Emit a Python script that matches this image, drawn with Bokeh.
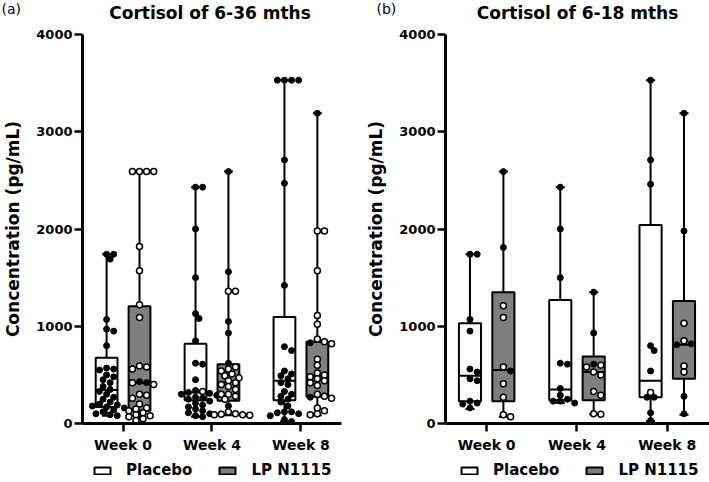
from bokeh.plotting import figure
from bokeh.models import Range1d, FixedTicker, Legend, LegendItem, Label
from bokeh.layouts import row, column
from bokeh.embed import file_html
from bokeh.resources import INLINE

weeks = ["Week 0", "Week 4", "Week 8"]
groups = ["Placebo", "LP N1115"]
y_ticks = [0, 1000, 2000, 3000, 4000]
titles = ["Cortisol of 6-36 mths", "Cortisol of 6-18 mths"]
tags = ["(a)", "(b)"]

# ---- panel (a): Cortisol of 6-36 mths ----
a_placebo_min = [80, 70, 20]
a_placebo_q1 = [170, 240, 240]
a_placebo_med = [345, 320, 440]
a_placebo_q3 = [675, 820, 1095]
a_placebo_max = [1740, 2430, 3530]
a_lp_min = [30, 85, 85]
a_lp_q1 = [130, 235, 275]
a_lp_med = [420, 425, 485]
a_lp_q3 = [1205, 610, 840]
a_lp_max = [2590, 2590, 3190]

a_placebo_filled = [
    [1740, 1740, 1690, 1070, 970, 950, 800, 570, 560, 550, 500, 480, 450, 420, 380,
     350, 330, 300, 270, 250, 220, 200, 190, 180, 170, 160, 140, 120, 100, 90, 80],
    [2430, 2430, 2000, 1500, 1130, 1080, 850, 620, 610, 450, 340, 320, 310, 300, 290,
     270, 260, 250, 230, 210, 190, 170, 150, 130, 110, 100, 80, 70],
    [3530, 3530, 3530, 3530, 2710, 2470, 1420, 790, 750, 540, 510, 490, 460, 420, 400,
     330, 300, 280, 250, 220, 180, 120, 120, 110, 100, 80, 40, 20],
]
a_placebo_open = [[], [330], []]
a_lp_filled = [[430, 420], [2590, 1560, 1050, 930, 620, 180], [3190, 830, 270]]
a_lp_open = [
    [2590, 2590, 2590, 2590, 1820, 1570, 1220, 1090, 590, 580, 560, 420, 400, 300, 290,
     260, 200, 160, 150, 130, 110, 90, 80, 70, 50, 30],
    [1360, 1360, 580, 560, 540, 510, 490, 470, 440, 420, 400, 380, 350, 300, 300, 280,
     250, 120, 100, 95, 90, 90, 85],
    [1980, 1980, 1570, 1110, 1020, 870, 840, 820, 660, 600, 520, 500, 480, 460, 440, 420,
     390, 300, 280, 260, 160, 130, 100, 90],
]

# ---- panel (b): Cortisol of 6-18 mths ----
b_placebo_min = [150, 210, 25]
b_placebo_q1 = [230, 240, 270]
b_placebo_med = [490, 350, 440]
b_placebo_q3 = [1030, 1270, 2040]
b_placebo_max = [1740, 2430, 3530]
b_lp_min = [70, 95, 90]
b_lp_q1 = [230, 240, 460]
b_lp_med = [550, 530, 810]
b_lp_q3 = [1350, 690, 1260]
b_lp_max = [2590, 1350, 3190]

b_placebo_filled = [
    [1740, 1740, 1070, 950, 560, 530, 460, 440, 230, 210, 200, 160],
    [2430, 2000, 1500, 620, 610, 360, 290, 250, 230, 230, 210],
    [3530, 2710, 2460, 800, 750, 540, 270, 270, 110, 30],
]
b_placebo_open = [[], [], [320]]
b_lp_filled = [[2590, 1810, 540], [1350, 930, 610], [3190, 1980, 820, 810, 280, 100]]
b_lp_open = [
    [1210, 1090, 580, 410, 270, 90, 70],
    [600, 580, 530, 500, 330, 290, 100, 95],
    [1030, 850, 590, 530],
]

FONT = "DejaVu Sans"
FILL_LP = "#7f7f7f"
OFFSET = 0.185
BOX_W = 0.245
CAP_W = 0.10
DOT = 6
TOP_H = 26
MAIN_H = 434
LEG_H = 20
BT, BB = 8, 37
X0 = -0.456
PPX = 90.3


def swarm(vals, center, ppx, ppy, d=DOT):
    """Deterministic beeswarm: spread overlapping points sideways."""
    order = sorted(range(len(vals)), key=lambda i: -vals[i])
    placed = []
    xs = [center] * len(vals)
    step = d * 0.6
    cands = [0]
    for k in range(1, 9):
        cands += [k, -k]
    for i in order:
        ypx = vals[i] * ppy
        for k in cands:
            xpx = k * step
            ok = True
            for (px, py) in placed:
                if (px - xpx) ** 2 + (py - ypx) ** 2 < (d * 0.95) ** 2:
                    ok = False
                    break
            if ok:
                break
        placed.append((xpx, ypx))
        xs[i] = center + xpx / ppx
    return xs


def draw_boxes(p, stats_p, stats_lp):
    rends = []
    for gi, (stats, fill) in enumerate(((stats_p, "white"), (stats_lp, FILL_LP))):
        mn, q1, med, q3, mx = stats
        cx = [w + (-OFFSET if gi == 0 else OFFSET) for w in range(3)]
        p.segment(x0=cx, y0=q3, x1=cx, y1=mx, line_color="black", line_width=2)
        p.segment(x0=cx, y0=q1, x1=cx, y1=mn, line_color="black", line_width=2)
        p.segment(x0=[c - CAP_W / 2 for c in cx], y0=mx, x1=[c + CAP_W / 2 for c in cx],
                  y1=mx, line_color="black", line_width=2)
        p.segment(x0=[c - CAP_W / 2 for c in cx], y0=mn, x1=[c + CAP_W / 2 for c in cx],
                  y1=mn, line_color="black", line_width=2)
        r = p.quad(left=[c - BOX_W / 2 for c in cx], right=[c + BOX_W / 2 for c in cx],
                   bottom=q1, top=q3, fill_color=fill, line_color="black", line_width=2)
        rends.append(r)
        p.segment(x0=[c - BOX_W / 2 for c in cx], y0=med, x1=[c + BOX_W / 2 for c in cx],
                  y1=med, line_color="black", line_width=2)
    return rends


def make_header(width, title, tag, title_cx, tag_x):
    hf = figure(width=width, height=TOP_H, output_backend="svg", toolbar_location=None,
                x_axis_location=None, y_axis_location=None, min_border=0,
                x_range=Range1d(0, width), y_range=Range1d(0, TOP_H))
    hf.outline_line_color = None
    hf.grid.visible = False
    hf.add_layout(Label(x=title_cx, y=14, text=title, text_font=FONT,
                        text_font_style="bold", text_font_size="17px",
                        text_color="black", text_align="center",
                        text_baseline="middle"))
    hf.add_layout(Label(x=tag_x, y=18, text=tag, text_font=FONT,
                        text_font_size="14px", text_color="black",
                        text_baseline="middle"))
    return hf


def make_panel(stats_p, stats_lp, pts_p, pts_lp, width, bl, br):
    height = MAIN_H
    frame_w = width - bl - br
    frame_h = height - BT - BB
    x_end = X0 + frame_w / PPX
    ppy = frame_h / 4000.0
    p = figure(width=width, height=height, output_backend="svg", toolbar_location=None,
               x_range=Range1d(X0, x_end), y_range=Range1d(0, 4000),
               min_border_left=bl, min_border_right=br, min_border_top=BT,
               min_border_bottom=BB)
    p.outline_line_color = None
    p.grid.visible = False

    for ax in (p.xaxis[0], p.yaxis[0]):
        ax.axis_line_width = 3
        ax.axis_line_color = "black"
        ax.major_tick_line_width = 2.5
        ax.major_tick_out = 8
        ax.major_tick_in = 0
        ax.minor_tick_line_color = None
        ax.major_label_text_font = FONT
        ax.major_label_text_font_style = "bold"
        ax.major_label_text_color = "black"
    p.xaxis.major_label_text_font_size = "14px"
    p.yaxis.major_label_text_font_size = "13px"
    p.xaxis.ticker = FixedTicker(ticks=[0, 1, 2])
    p.xaxis.major_label_overrides = {i: w for i, w in enumerate(weeks)}
    p.xaxis.major_label_standoff = 5
    p.xaxis.axis_label_standoff = 0
    p.yaxis.ticker = FixedTicker(ticks=y_ticks)
    p.yaxis.major_label_standoff = 2
    p.yaxis.axis_label = "Concentration (pg/mL)"
    p.yaxis.axis_label_text_font = FONT
    p.yaxis.axis_label_text_font_style = "bold"
    p.yaxis.axis_label_text_font_size = "17px"
    p.yaxis.axis_label_text_color = "black"
    p.yaxis.axis_label_standoff = 10

    draw_boxes(p, stats_p, stats_lp)

    for gi, (filled, opened) in enumerate((pts_p, pts_lp)):
        for w in range(3):
            c = w + (-OFFSET if gi == 0 else OFFSET)
            vals = list(filled[w]) + list(opened[w])
            xs = swarm(vals, c, PPX, ppy)
            nf = len(filled[w])
            if nf:
                p.scatter(x=xs[:nf], y=vals[:nf], size=DOT, marker="circle",
                          fill_color="black", line_color="black", line_width=1)
            if len(vals) > nf:
                p.scatter(x=xs[nf:], y=vals[nf:], size=DOT, marker="circle",
                          fill_color="white", line_color="black", line_width=1.5)
    return p


def make_legend(width, x0, stats_p, stats_lp):
    # legend strip: the same boxes are drawn but fall outside its (hidden) ranges
    lf = figure(width=width, height=LEG_H, output_backend="svg", toolbar_location=None,
                x_axis_location=None, y_axis_location=None, min_border=0,
                x_range=Range1d(X0, 2.456), y_range=Range1d(-2, -1))
    lf.outline_line_color = None
    lf.grid.visible = False
    r_p, r_lp = draw_boxes(lf, stats_p, stats_lp)
    legend = Legend(items=[LegendItem(label=groups[0], renderers=[r_p]),
                           LegendItem(label=groups[1], renderers=[r_lp])],
                    orientation="horizontal", location=(x0, 0))
    legend.label_text_font = FONT
    legend.label_text_font_style = "bold"
    legend.label_text_font_size = "15px"
    legend.label_text_color = "black"
    legend.label_height = 16
    legend.glyph_width = 20
    legend.glyph_height = 9
    legend.label_standoff = 14
    legend.spacing = 25
    legend.border_line_alpha = 0
    legend.background_fill_alpha = 0
    legend.margin = 0
    legend.padding = 1
    lf.add_layout(legend)
    return lf


stats_a = ((a_placebo_min, a_placebo_q1, a_placebo_med, a_placebo_q3, a_placebo_max),
           (a_lp_min, a_lp_q1, a_lp_med, a_lp_q3, a_lp_max))
stats_b = ((b_placebo_min, b_placebo_q1, b_placebo_med, b_placebo_q3, b_placebo_max),
           (b_lp_min, b_lp_q1, b_lp_med, b_lp_q3, b_lp_max))

W_A, W_B = 355, 354
BL_A, BR_A, BL_B, BR_B = 78, 14, 90, 0

ha = make_header(W_A, titles[0], tags[0], BL_A + (W_A - BL_A - BR_A) / 2, 1)
hb = make_header(W_B, titles[1], tags[1], BL_B + (W_B - BL_B - BR_B) / 2, 21)
pa = make_panel(stats_a[0], stats_a[1],
                (a_placebo_filled, a_placebo_open), (a_lp_filled, a_lp_open),
                W_A, BL_A, BR_A)
pb = make_panel(stats_b[0], stats_b[1],
                (b_placebo_filled, b_placebo_open), (b_lp_filled, b_lp_open),
                W_B, BL_B, BR_B)
la = make_legend(W_A, 91, *stats_a)
lb = make_legend(W_B, 103, *stats_b)

layout = column(row(ha, hb), row(pa, pb), row(la, lb))
open("out.html", "w").write(file_html(layout, INLINE))
